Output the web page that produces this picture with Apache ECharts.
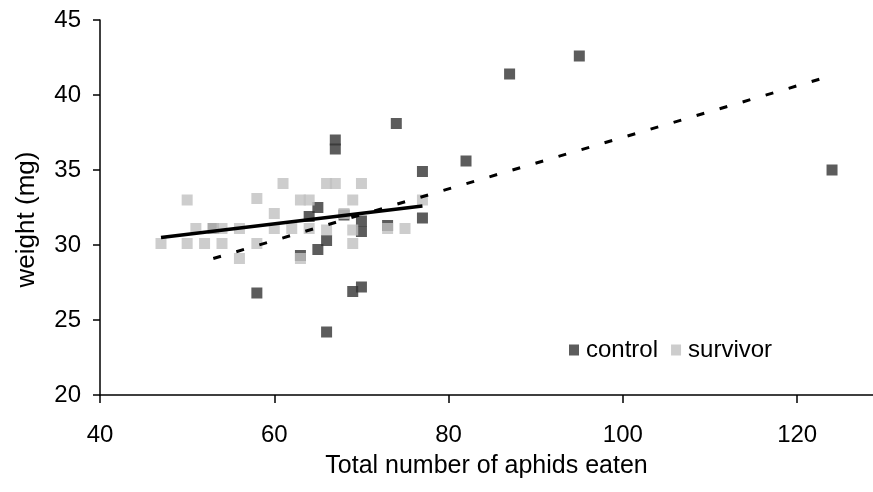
<!DOCTYPE html>
<html>
<head>
<meta charset="utf-8">
<script src="https://cdn.jsdelivr.net/npm/echarts@6/dist/echarts.min.js"></script>
<style>
html,body{margin:0;padding:0;background:#fff;}
#chart{width:873px;height:492px;}
</style>
</head>
<body>
<div id="chart"></div>
<script>
(function(){
	// aphids eaten (x) and weight in mg (y)
	var controlX = [95, 87, 82, 124, 74, 67, 67, 77, 77, 65, 64, 70, 70, 66, 65, 63, 73, 68, 58, 69, 70, 66, 53];
	var controlY = [42.6, 41.4, 35.6, 35.0, 38.1, 37.0, 36.4, 34.9, 31.8, 32.5, 31.9, 31.6, 30.9, 30.3, 29.7, 29.3, 31.3, 32.0, 26.8, 26.9, 27.2, 24.2, 31.1];
	var survivorX = [47, 50, 50, 51, 53, 54, 52, 54, 56, 56, 58, 58, 61, 60, 60, 62, 63, 64, 66, 67, 70, 69, 77, 68, 66, 69, 73, 75, 69, 64, 63];
	var survivorY = [30.1, 33.0, 30.1, 31.1, 31.1, 31.1, 30.1, 30.1, 31.1, 29.1, 33.1, 30.1, 34.1, 32.1, 31.1, 31.1, 33.0, 33.0, 34.1, 34.1, 34.1, 33.0, 33.0, 32.1, 31.0, 31.0, 31.1, 31.1, 30.1, 31.1, 29.1];
	// linear trend lines (end points)
	var controlTrendX = [53, 124];
	var controlTrendY = [29.1, 41.3];
	var survivorTrendX = [47, 77];
	var survivorTrendY = [30.5, 32.6];
	var xTicks = [40, 60, 80, 100, 120];
	var yTicks = [20, 25, 30, 35, 40, 45];

	function pairs(xs, ys){
		var out = [];
		for (var i = 0; i < xs.length; i++) out.push([xs[i], ys[i]]);
		return out;
	}

	var font = 'Liberation Sans';
	var chart = echarts.init(document.getElementById('chart'));
	var option = {
		animation: false,
		backgroundColor: '#fff',
		textStyle: { fontFamily: font, color: '#000' },
		grid: { left: 100, top: 20, bottom: 97, right: 0 },
		legend: {
			data: ['control', 'survivor'],
			left: 564, top: 333,
			icon: 'rect',
			itemWidth: 10, itemHeight: 11,
			itemGap: 13,
			textStyle: { fontFamily: font, fontSize: 24, color: '#000', padding: [0, 0, 0, 2] }
		},
		xAxis: {
			type: 'value',
			min: xTicks[0], max: 128.7, interval: 20,
			name: 'Total number of aphids eaten',
			nameLocation: 'middle', nameGap: 59,
			nameTextStyle: { fontFamily: font, fontSize: 25, color: '#000' },
			axisLine: { lineStyle: { color: '#000', width: 1.5 } },
			axisTick: { length: 8, customValues: xTicks, lineStyle: { color: '#000', width: 1.5 } },
			axisLabel: { fontFamily: font, fontSize: 24, color: '#000', margin: 28, customValues: xTicks },
			splitLine: { show: false }
		},
		yAxis: {
			type: 'value',
			min: yTicks[0], max: yTicks[yTicks.length - 1], interval: 5,
			name: 'weight (mg)',
			nameLocation: 'middle', nameGap: 60,
			nameTextStyle: { fontFamily: font, fontSize: 26, color: '#000', padding: [0, 24, 0, 0] },
			axisLine: { show: true, lineStyle: { color: '#000', width: 1.5 } },
			axisTick: { show: true, length: 7, lineStyle: { color: '#000', width: 1.5 } },
			axisLabel: { fontFamily: font, fontSize: 24, color: '#000', margin: 19 },
			splitLine: { show: false }
		},
		series: [
			{
				name: 'control', type: 'scatter',
				symbol: 'rect', symbolSize: 11,
				itemStyle: { color: '#333333' },
				data: pairs(controlX, controlY)
			},
			{
				name: 'survivor', type: 'scatter',
				symbol: 'rect', symbolSize: 11,
				itemStyle: { color: '#c0c0c0' },
				data: pairs(survivorX, survivorY)
			},
			{
				name: 'control trend', type: 'line',
				showSymbol: false, silent: true, z: 3,
				lineStyle: { color: '#000', width: 3, type: [8, 16] },
				data: pairs(controlTrendX, controlTrendY)
			},
			{
				name: 'survivor trend', type: 'line',
				showSymbol: false, silent: true, z: 3,
				lineStyle: { color: '#000', width: 3.5 },
				data: pairs(survivorTrendX, survivorTrendY)
			}
		]
	};
	chart.setOption(option);
})();
</script>
</body>
</html>
